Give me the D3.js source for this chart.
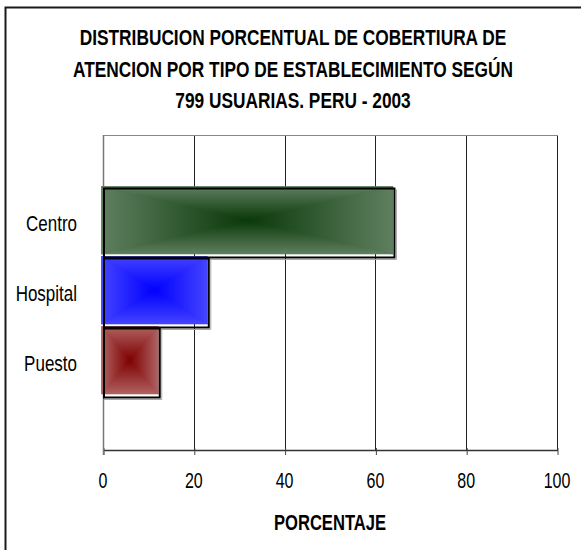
<!DOCTYPE html>
<html>
<head>
<meta charset="utf-8">
<script src="https://cdn.jsdelivr.net/npm/d3@7"></script>
<style>
html,body{margin:0;padding:0;background:#fff;}
svg{display:block;}
</style>
</head>
<body>
<svg id="chart" width="581" height="550"></svg>
<script>
const titleLines = ["DISTRIBUCION PORCENTUAL DE COBERTIURA DE", "ATENCION POR TIPO DE ESTABLECIMIENTO SEGÚN", "799 USUARIAS. PERU - 2003"];
const categories = ["Centro", "Hospital", "Puesto"];
const values = [64.2, 23.3, 12.5];
const edgeColors = ["#5f7f5f", "#4444ff", "#b06262"];
const centerColors = ["#0a380a", "#0000ff", "#7e0000"];
const xTicks = [0, 20, 40, 60, 80, 100];
const xTitle = "PORCENTAJE";

const svg = d3.select("#chart");
const FONT = "'Liberation Sans', Arial, sans-serif";
const plot = {left: 103, right: 557, top: 135, bottom: 450};

const x = d3.scaleLinear().domain([0, 100]).range([plot.left, plot.right]);
const y = d3.scaleBand().domain(categories).range([plot.top, plot.bottom]).paddingInner(0).paddingOuter(0.75);

// outer frame
svg.append("rect").attr("x", 5.5).attr("y", 7.5).attr("width", 620).attr("height", 620)
  .attr("fill", "none").attr("stroke", "#1a1a1a").attr("stroke-width", 2);

function narrowText(sel, tx, ty, txt, opts) {
  const g = sel.append("g").attr("transform", `translate(${tx},${ty}) scale(${opts.sx},${opts.sy || 1.1})`);
  g.append("text").attr("x", 0).attr("y", 0)
    .attr("text-anchor", opts.anchor || "middle")
    .attr("font-family", FONT).attr("font-size", opts.size)
    .attr("font-weight", opts.weight || "normal")
    .attr("fill", "#000").text(txt);
}

// title
const titleBase = [45, 77, 108];
titleLines.forEach((t, i) => narrowText(svg, 293, titleBase[i], t, {sx: 0.865, size: 20, weight: "bold"}));

// gridlines
svg.append("g").selectAll("line").data(xTicks.slice(1)).join("line")
  .attr("x1", d => Math.round(x(d)) + 0.5).attr("x2", d => Math.round(x(d)) + 0.5)
  .attr("y1", plot.top).attr("y2", plot.bottom)
  .attr("stroke", "#222").attr("stroke-width", 1);
// plot top border
svg.append("line").attr("x1", x(0)).attr("x2", Math.round(x(100)) + 1)
  .attr("y1", plot.top + 0.5).attr("y2", plot.top + 0.5)
  .attr("stroke", "#888").attr("stroke-width", 1);

// x axis
const xAxis = d3.axisBottom(x).tickValues(xTicks).tickSize(5).tickSizeOuter(0).tickFormat(d3.format("d"));
const ax = svg.append("g").attr("transform", `translate(0.5,${plot.bottom})`).call(xAxis);
ax.select(".domain").attr("stroke", "#333").attr("stroke-width", 1.5);
ax.selectAll(".tick line").attr("stroke", "#444").attr("y1", -2);
ax.selectAll(".tick text").remove();
xTicks.forEach(t => narrowText(svg, x(t), 488, String(t), {sx: 0.8, size: 20}));

// left axis line
svg.append("line").attr("x1", Math.round(x(0)) + 0.5).attr("x2", Math.round(x(0)) + 0.5)
  .attr("y1", plot.top).attr("y2", plot.bottom + 5)
  .attr("stroke", "#777").attr("stroke-width", 1.5);

// category labels
categories.forEach(c => narrowText(svg, 77, y(c) + y.bandwidth() / 2 + 8, c, {sx: 0.85, size: 20, anchor: "end"}));

// axis title
narrowText(svg, (plot.left + plot.right) / 2, 530, xTitle, {sx: 0.83, size: 20, weight: "bold"});

// gradients
const defs = svg.append("defs");
const dirs = {
  top: {x1: 0, y1: 0, x2: 0, y2: 1, rev: false},
  bottom: {x1: 0, y1: 0, x2: 0, y2: 1, rev: true},
  left: {x1: 0, y1: 0, x2: 1, y2: 0, rev: false},
  right: {x1: 0, y1: 0, x2: 1, y2: 0, rev: true}
};
categories.forEach((c, i) => {
  Object.entries(dirs).forEach(([k, d]) => {
    const lg = defs.append("linearGradient").attr("id", `g${i}${k}`)
      .attr("x1", d.x1).attr("y1", d.y1).attr("x2", d.x2).attr("y2", d.y2);
    lg.append("stop").attr("offset", 0).attr("stop-color", d.rev ? centerColors[i] : edgeColors[i]);
    lg.append("stop").attr("offset", 1).attr("stop-color", d.rev ? edgeColors[i] : centerColors[i]);
  });
});

const bars = svg.append("g");
// shadows
categories.forEach((c, i) => {
  const x0 = x(0), x1 = x(values[i]);
  const y0 = y(c), y1 = y(c) + y.bandwidth();
  bars.append("path").attr("d", `M${x1 + 2},${y0 + 2}V${y1 + 2}H${x0 + 1}`)
    .attr("fill", "none").attr("stroke", "#aaa").attr("stroke-width", 1);
});
// fills
categories.forEach((c, i) => {
  const fx0 = x(0) - 1.5, fx1 = x(values[i]) - 1.5;
  const fy0 = y(c) - 1, fy1 = y(c) + y.bandwidth() - 3.5;
  const cx = (fx0 + fx1) / 2, cy = (fy0 + fy1) / 2;
  const g = bars.append("g");
  g.append("rect").attr("x", fx0).attr("y", fy0).attr("width", fx1 - fx0).attr("height", fy1 - fy0)
    .attr("fill", d3.interpolateRgb(edgeColors[i], centerColors[i])(0.5));
  const tris = {
    top: [[fx0, fy0], [fx1, fy0], [cx, cy]],
    bottom: [[fx0, fy1], [fx1, fy1], [cx, cy]],
    left: [[fx0, fy0], [fx0, fy1], [cx, cy]],
    right: [[fx1, fy0], [fx1, fy1], [cx, cy]]
  };
  Object.entries(tris).forEach(([k, pts]) => {
    g.append("path").attr("d", d3.line()(pts) + "Z").attr("fill", `url(#g${i}${k})`)
      .attr("stroke", `url(#g${i}${k})`).attr("stroke-width", 0.6);
  });
});
// black outlines
categories.forEach((c, i) => {
  const x0 = x(0), x1 = x(values[i]);
  const y0 = y(c), y1 = y(c) + y.bandwidth();
  bars.append("rect").attr("x", x0 + 1).attr("y", y0 + 1).attr("width", x1 - x0 - 1).attr("height", y1 - y0 - 1)
    .attr("fill", "none").attr("stroke", "#000").attr("stroke-width", 2);
});
</script>
</body>
</html>
